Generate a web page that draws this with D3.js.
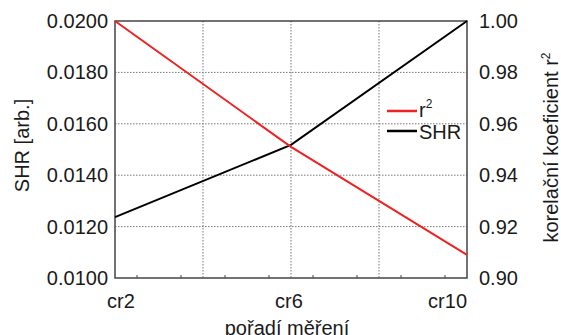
<!DOCTYPE html>
<html>
<head>
<meta charset="utf-8">
<script src="https://cdn.jsdelivr.net/npm/d3@7"></script>
<style>
  body { margin: 0; background: #fff; }
  text { font-family: "Liberation Sans", Arial, sans-serif; fill: #1a1a1a; }
</style>
</head>
<body>
<div id="graf"></div>
<script>
/////////// DATOS /////////
var mereni = [2, 6, 10];                 // cr2, cr6, cr10
var shr = [0.01237, 0.01518, 0.0200];    // levá osa
var r2 = [1.000, 0.951, 0.909];          // pravá osa
var xTickLabels = ["cr2", "cr6", "cr10"];
var yLeftTicks = [0.0100, 0.0120, 0.0140, 0.0160, 0.0180, 0.0200];
var yRightTicks = [0.90, 0.92, 0.94, 0.96, 0.98, 1.00];

/////////// DISTANCIA /////////
var margin = {top: 21, right: 94, bottom: 57, left: 115},
    W = 561, H = 335,
    width = W - margin.left - margin.right,
    height = H - margin.top - margin.bottom;

var svg = d3.select("#graf").append("svg")
    .attr("width", W)
    .attr("height", H)
  .append("g")
    .attr("transform", "translate(" + margin.left + "," + margin.top + ")");

/////////// ESCALAS /////////
var x = d3.scaleLinear().domain([2, 10]).range([0, width]);
var y = d3.scaleLinear().domain([0.0100, 0.0200]).range([height, 0]);
var y2 = d3.scaleLinear().domain([0.90, 1.00]).range([height, 0]);

/////////// GRID /////////
svg.append("g")
    .selectAll("line")
    .data([4, 6, 8])
    .enter().append("line")
    .attr("x1", function(d) { return x(d); })
    .attr("x2", function(d) { return x(d); })
    .attr("y1", 0).attr("y2", height)
    .attr("stroke", "#777")
    .attr("stroke-width", 1)
    .attr("stroke-dasharray", "1.5,1.5");

svg.append("g")
    .selectAll("line")
    .data(yLeftTicks.slice(1, -1))
    .enter().append("line")
    .attr("x1", 0).attr("x2", width)
    .attr("y1", function(d) { return y(d); })
    .attr("y2", function(d) { return y(d); })
    .attr("stroke", "#777")
    .attr("stroke-width", 1)
    .attr("stroke-dasharray", "1.5,1.5");

// vedlejší značky na ose X
svg.append("g")
    .selectAll("line")
    .data([2.5, 3.5, 4.5, 5.5, 6.5, 7.5, 8.5, 9.5])
    .enter().append("line")
    .attr("x1", function(d) { return x(d); })
    .attr("x2", function(d) { return x(d); })
    .attr("y1", height).attr("y2", height - 3)
    .attr("stroke", "#444")
    .attr("stroke-width", 1);

/////////// RÁMEČEK /////////
svg.append("rect")
    .attr("x", 0).attr("y", 0)
    .attr("width", width).attr("height", height)
    .attr("fill", "none")
    .attr("stroke", "#444")
    .attr("stroke-width", 1.5);

/////////// EJE Y /////////
svg.append("g")
    .selectAll("text")
    .data(yLeftTicks)
    .enter().append("text")
    .attr("x", -7)
    .attr("y", function(d) { return y(d); })
    .attr("dy", "0.35em")
    .attr("text-anchor", "end")
    .attr("font-size", "20px")
    .text(function(d) { return d3.format(".4f")(d); });

/////////// EJE Y2 /////////
svg.append("g")
    .selectAll("text")
    .data(yRightTicks)
    .enter().append("text")
    .attr("x", width + 12)
    .attr("y", function(d) { return y2(d); })
    .attr("dy", "0.35em")
    .attr("text-anchor", "start")
    .attr("font-size", "20px")
    .text(function(d) { return d3.format(".2f")(d); });

/////////// EJE X /////////
var anchors = ["start", "middle", "end"];
var dxs = [-8, -2, 0];
svg.append("g")
    .selectAll("text")
    .data(mereni)
    .enter().append("text")
    .attr("x", function(d, i) { return x(d) + dxs[i]; })
    .attr("y", height + 30)
    .attr("text-anchor", function(d, i) { return anchors[i]; })
    .attr("font-size", "20px")
    .text(function(d, i) { return xTickLabels[i]; });

/////////// TÍTULOS /////////
svg.append("text")
    .attr("x", x(6) - 4)
    .attr("y", H - margin.top)
    .attr("text-anchor", "middle")
    .attr("font-size", "20px")
    .text("pořadí měření");

svg.append("text")
    .attr("transform", "rotate(-90)")
    .attr("x", -height / 2 + 4)
    .attr("y", -margin.left + 29)
    .attr("text-anchor", "middle")
    .attr("font-size", "20px")
    .text("SHR [arb.]");

var tit2 = svg.append("text")
    .attr("transform", "rotate(-90)")
    .attr("x", -height / 2 + 2)
    .attr("y", width + 91)
    .attr("text-anchor", "middle")
    .attr("font-size", "20px");
tit2.append("tspan").text("korelační koeficient r");
tit2.append("tspan").attr("font-size", "12px").attr("dy", "-8").text("2");

///////// PINTAR DATOS /////////
var line = d3.line();

svg.append("path")
    .datum(mereni.map(function(d, i) { return [x(d), y(shr[i])]; }))
    .attr("fill", "none")
    .attr("stroke", "#000")
    .attr("stroke-width", 2)
    .attr("d", line);

svg.append("path")
    .datum(mereni.map(function(d, i) { return [x(d), y2(r2[i])]; }))
    .attr("fill", "none")
    .attr("stroke", "#ee2222")
    .attr("stroke-width", 2)
    .attr("d", line);

/////////// LEYENDA /////////
var leg = svg.append("g").attr("transform", "translate(272, 90)");
leg.append("line")
    .attr("x1", 0).attr("x2", 30).attr("y1", 0).attr("y2", 0)
    .attr("stroke", "#ee2222").attr("stroke-width", 2.5);
var t1 = leg.append("text").attr("x", 32).attr("y", 6).attr("font-size", "20px");
t1.append("tspan").text("r");
t1.append("tspan").attr("font-size", "12px").attr("dy", "-9").text("2");
leg.append("line")
    .attr("x1", 0).attr("x2", 30).attr("y1", 20).attr("y2", 20)
    .attr("stroke", "#000").attr("stroke-width", 2.5);
leg.append("text").attr("x", 32).attr("y", 28).attr("font-size", "20px").text("SHR");
</script>
</body>
</html>
